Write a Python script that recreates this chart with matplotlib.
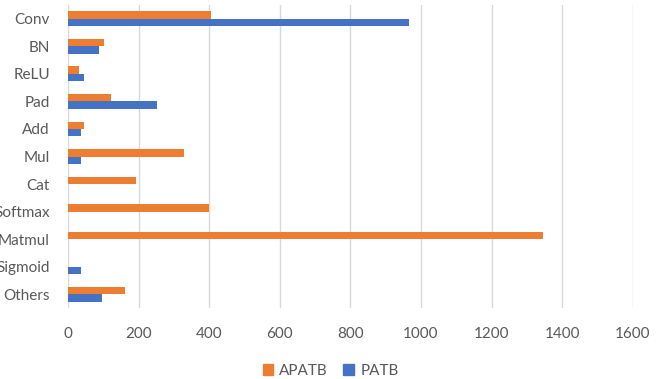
import numpy as np
import matplotlib
matplotlib.use("Agg")
import matplotlib.pyplot as plt
from matplotlib.patches import Patch

categories = ["Conv", "BN", "ReLU", "Pad", "Add", "Mul", "Cat", "Softmax", "Matmul", "Sigmoid", "Others"]
apatb = [406, 101, 30, 122, 46, 329, 193, 400, 1347, 0, 161]
patb = [966, 89, 46, 253, 36, 36, 0, 0, 0, 36, 95]
xticks = [0, 200, 400, 600, 800, 1000, 1200, 1400, 1600]

orange = "#ED7D31"
blue = "#4472C4"
text_color = "#595959"

plt.rcParams["font.family"] = ["Lato", "DejaVu Sans"]

fig = plt.figure(figsize=(6.65, 3.79), dpi=100)
ax = fig.add_axes([0.1023, 0.1873, 0.8491, 0.7995])

y = np.arange(len(categories))
bh = 0.27
ax.barh(y - bh / 2, apatb, height=bh, color=orange, zorder=3)
ax.barh(y + bh / 2, patb, height=bh, color=blue, zorder=3)

ax.set_ylim(len(categories) - 0.5, -0.5)
ax.set_xlim(0, 1600)
ax.set_xticks(xticks)
ax.set_yticks(y)
ax.set_yticklabels(categories)
ax.grid(axis="x", color="#D9D9D9", linewidth=1.0, zorder=0)
for s in ax.spines.values():
    s.set_visible(False)
ax.tick_params(axis="both", length=0, labelsize=11, colors=text_color)
ax.tick_params(axis="x", pad=14)
ax.tick_params(axis="y", pad=13)

handles = [Patch(color=orange, label="APATB"), Patch(color=blue, label="PATB")]
fig.legend(handles=handles, loc="center", bbox_to_anchor=(0.497, 0.022), ncol=2,
           frameon=False, fontsize=11, labelcolor=text_color,
           handlelength=0.7, handleheight=0.7, handletextpad=0.4, columnspacing=1.0)

fig.savefig("out.png", dpi=100)
